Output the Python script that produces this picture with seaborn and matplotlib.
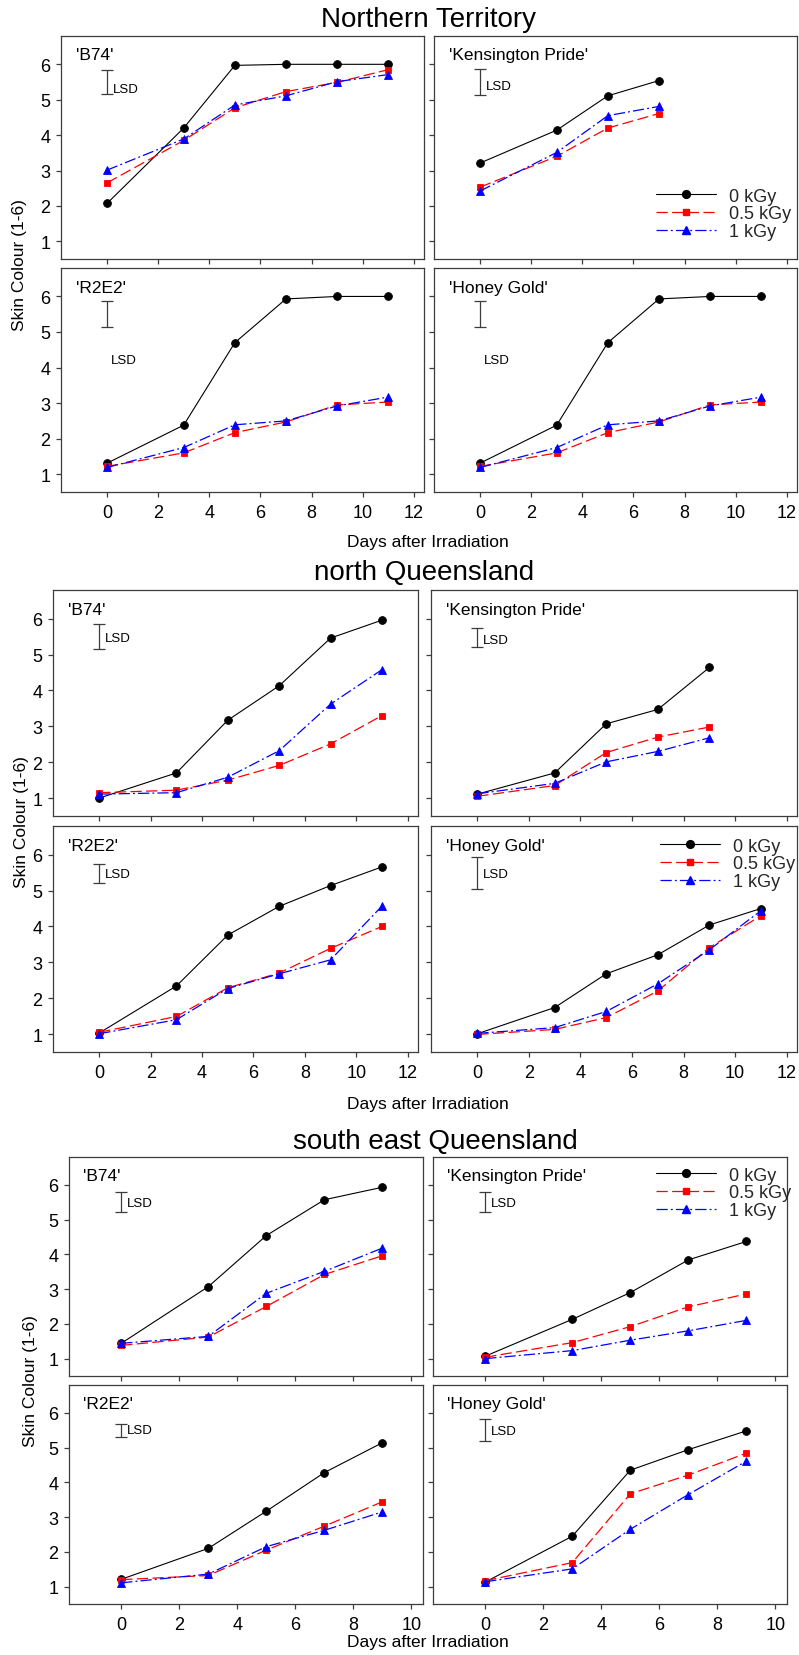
import matplotlib
matplotlib.use("Agg")
import matplotlib.pyplot as plt
import seaborn as sns
from matplotlib.lines import Line2D

sns.set_theme(style="ticks")
plt.rcParams['font.family'] = ['Liberation Sans', 'DejaVu Sans']

W, H, DPI = 799, 1656, 100

# ---------------- data ----------------
doses = ["0 kGy", "0.5 kGy", "1 kGy"]
cultivars = ["'B74'", "'Kensington Pride'", "'R2E2'", "'Honey Gold'"]
regions = ["Northern Territory", "north Queensland", "south east Queensland"]

days_11 = [0, 3, 5, 7, 9, 11]
days_9 = [0, 3, 5, 7, 9]
days_7 = [0, 3, 5, 7]

# Northern Territory
nt_b74_0 = [2.07, 4.20, 5.97, 6.00, 6.00, 6.00]
nt_b74_05 = [2.65, 3.85, 4.77, 5.23, 5.49, 5.85]
nt_b74_1 = [3.01, 3.89, 4.85, 5.11, 5.51, 5.71]
nt_kp_0 = [3.21, 4.14, 5.11, 5.54]
nt_kp_05 = [2.53, 3.40, 4.20, 4.61]
nt_kp_1 = [2.42, 3.51, 4.55, 4.81]
nt_r2e2_0 = [1.31, 2.38, 4.70, 5.93, 6.00, 6.00]
nt_r2e2_05 = [1.22, 1.60, 2.17, 2.47, 2.95, 3.03]
nt_r2e2_1 = [1.19, 1.75, 2.39, 2.50, 2.92, 3.17]
nt_hg_0 = [1.31, 2.38, 4.70, 5.93, 6.00, 6.00]
nt_hg_05 = [1.22, 1.60, 2.17, 2.47, 2.95, 3.03]
nt_hg_1 = [1.19, 1.75, 2.39, 2.50, 2.92, 3.17]

# north Queensland
nq_b74_0 = [1.00, 1.70, 3.17, 4.13, 5.46, 5.96]
nq_b74_05 = [1.15, 1.22, 1.50, 1.91, 2.51, 3.30]
nq_b74_1 = [1.11, 1.15, 1.58, 2.32, 3.62, 4.58]
nq_kp_0 = [1.11, 1.70, 3.07, 3.47, 4.64]
nq_kp_05 = [1.05, 1.35, 2.27, 2.70, 2.98]
nq_kp_1 = [1.12, 1.41, 2.01, 2.30, 2.68]
nq_r2e2_0 = [1.03, 2.34, 3.76, 4.56, 5.14, 5.66]
nq_r2e2_05 = [1.05, 1.49, 2.29, 2.70, 3.39, 4.00]
nq_r2e2_1 = [1.01, 1.40, 2.27, 2.68, 3.07, 4.57]
nq_hg_0 = [1.01, 1.74, 2.68, 3.21, 4.04, 4.50]
nq_hg_05 = [0.99, 1.13, 1.46, 2.20, 3.41, 4.30]
nq_hg_1 = [1.02, 1.18, 1.63, 2.40, 3.35, 4.44]

# south east Queensland
seq_b74_0 = [1.44, 3.07, 4.54, 5.57, 5.93]
seq_b74_05 = [1.38, 1.62, 2.50, 3.42, 3.96]
seq_b74_1 = [1.44, 1.64, 2.88, 3.51, 4.18]
seq_kp_0 = [1.07, 2.13, 2.90, 3.84, 4.37]
seq_kp_05 = [1.04, 1.46, 1.92, 2.49, 2.86]
seq_kp_1 = [1.00, 1.23, 1.53, 1.80, 2.10]
seq_r2e2_0 = [1.21, 2.10, 3.17, 4.28, 5.14]
seq_r2e2_05 = [1.20, 1.32, 2.05, 2.74, 3.44]
seq_r2e2_1 = [1.11, 1.36, 2.15, 2.62, 3.15]
seq_hg_0 = [1.13, 2.45, 4.35, 4.94, 5.48]
seq_hg_05 = [1.17, 1.69, 3.67, 4.21, 4.84]
seq_hg_1 = [1.14, 1.51, 2.65, 3.65, 4.61]

# LSD bars (low, high) and the height of the "LSD" label
nt_lsd = [(5.15, 5.84, 5.30), (5.13, 5.87, 5.39), (5.13, 5.86, 4.22), (5.13, 5.86, 4.22)]
nq_lsd = [(5.16, 5.85, 5.46), (5.22, 5.73, 5.40), (5.22, 5.75, 5.45), (5.05, 5.94, 5.45)]
seq_lsd = [(5.21, 5.79, 5.47), (5.21, 5.79, 5.47), (5.31, 5.69, 5.50), (5.20, 5.81, 5.47)]

# ---------------- styling ----------------
EDGE = "#3c3c3c"
series_style = [
    dict(color="black", marker="o", ms=5.6, ls="-", lw=0.8),
    dict(color="#ff0000", marker="s", ms=4.8, ls=(0, (9, 3.5)), lw=0.9),
    dict(color="#0000ff", marker="^", ms=5.6, ls=(0, (9, 2.5, 1.5, 2.5)), lw=0.9),
]

# panel boxes in pixels: (left-col x0, x1), (right-col x0, x1), (row1 y0, y1), (row2 y0, y1)
blocks = [
    dict(title=regions[0], title_xy=(429, 20), cols=[(61, 424), (434, 797)],
         rows=[(37, 260), (269, 493)], xmax=12, xlim=(-1.8, 12.4), ylab_x=20,
         xlab_y=543,
         days=[days_11, days_7, days_11, days_11],
         vals=[(nt_b74_0, nt_b74_05, nt_b74_1), (nt_kp_0, nt_kp_05, nt_kp_1),
               (nt_r2e2_0, nt_r2e2_05, nt_r2e2_1), (nt_hg_0, nt_hg_05, nt_hg_1)],
         lsd=nt_lsd, lsd_x=[0.22, 0.22, 0.15, 0.15], legend=(1, (0.612, 0.202))),
    dict(title=regions[1], title_xy=(424, 573), cols=[(53, 418), (431, 797)],
         rows=[(591, 817), (827, 1053)], xmax=12, xlim=(-1.8, 12.4), ylab_x=22,
         xlab_y=1105,
         days=[days_11, days_9, days_11, days_11],
         vals=[(nq_b74_0, nq_b74_05, nq_b74_1), (nq_kp_0, nq_kp_05, nq_kp_1),
               (nq_r2e2_0, nq_r2e2_05, nq_r2e2_1), (nq_hg_0, nq_hg_05, nq_hg_1)],
         lsd=nq_lsd, lsd_x=[0.22, 0.22, 0.22, 0.22], legend=(3, (0.626, 0.832))),
    dict(title=regions[2], title_xy=(435, 1142), cols=[(69, 423), (433, 787)],
         rows=[(1158, 1377), (1386, 1605)], xmax=10, xlim=(-1.8, 10.4), ylab_x=30,
         xlab_y=1643,
         days=[days_9, days_9, days_9, days_9],
         vals=[(seq_b74_0, seq_b74_05, seq_b74_1), (seq_kp_0, seq_kp_05, seq_kp_1),
               (seq_r2e2_0, seq_r2e2_05, seq_r2e2_1), (seq_hg_0, seq_hg_05, seq_hg_1)],
         lsd=seq_lsd, lsd_x=[0.2, 0.2, 0.2, 0.2], legend=(1, (0.63, 0.836))),
]

fig = plt.figure(figsize=(W / DPI, H / DPI), dpi=DPI)
fig.patch.set_facecolor("white")


def px_axes(x0, x1, y0, y1):
    return fig.add_axes([x0 / W, 1 - y1 / H, (x1 - x0) / W, (y1 - y0) / H])


for blk in blocks:
    for k in range(4):
        r, c = divmod(k, 2)
        (x0, x1), (y0, y1) = blk["cols"][c], blk["rows"][r]
        ax = px_axes(x0, x1, y0, y1)
        ax.set_facecolor("white")
        days = blk["days"][k]
        for vals, st in zip(blk["vals"][k], series_style):
            sns.lineplot(x=days, y=vals, ax=ax, color=st["color"], marker=st["marker"],
                         markersize=st["ms"], markeredgecolor=st["color"],
                         markeredgewidth=0.6, linewidth=st["lw"], linestyle=st["ls"],
                         legend=False, errorbar=None, sort=False)
        lo, hi, ty = blk["lsd"][k]
        ax.errorbar([0], [(lo + hi) / 2], yerr=[[(hi - lo) / 2], [(hi - lo) / 2]],
                    fmt="none", ecolor=EDGE, elinewidth=0.9, capsize=4, capthick=0.9)
        ax.text(blk["lsd_x"][k], ty, "LSD", fontsize=9.5, ha="left", va="center", color="black")
        ax.text(0.04, 0.915, cultivars[k], transform=ax.transAxes, fontsize=12.5,
                ha="left", va="center", color="black")

        ax.set_xlim(*blk["xlim"])
        ax.set_ylim(0.5, 6.8)
        ax.set_xticks(list(range(0, blk["xmax"] + 1, 2)))
        ax.set_yticks([1, 2, 3, 4, 5, 6])
        ax.set_xlabel("")
        ax.set_ylabel("")
        for sp in ax.spines.values():
            sp.set_visible(True)
            sp.set_color(EDGE)
            sp.set_linewidth(0.9)
        ax.tick_params(axis="both", direction="out", length=3.5, width=0.9, color=EDGE,
                       labelsize=13, labelcolor="black", bottom=True, left=True)
        ax.tick_params(axis="x", pad=5)
        ax.tick_params(axis="y", pad=4)
        if r == 0:
            ax.tick_params(labelbottom=False)
        if c == 1:
            ax.tick_params(labelleft=False)

        if k == blk["legend"][0]:
            handles = [Line2D([], [], color=st["color"], marker=st["marker"], markersize=st["ms"],
                              markeredgecolor=st["color"], linewidth=st["lw"], linestyle=st["ls"])
                       for st in series_style]
            ax.legend(handles, doses, loc="center left", bbox_to_anchor=blk["legend"][1],
                      frameon=False, fontsize=13, handlelength=3.3, handletextpad=0.75,
                      labelspacing=0.05, borderpad=0, borderaxespad=0)

    fig.text(blk["title_xy"][0] / W, 1 - blk["title_xy"][1] / H, blk["title"],
             ha="center", va="center", fontsize=20, color="black")
    ymid = (blk["rows"][0][0] + blk["rows"][1][1]) / 2
    fig.text(blk["ylab_x"] / W, 1 - ymid / H, "Skin Colour (1-6)", rotation=90,
             ha="center", va="center", fontsize=12.5, color="black")
    fig.text(428 / W, 1 - blk["xlab_y"] / H, "Days after Irradiation",
             ha="center", va="center", fontsize=12.5, color="black")

fig.savefig("out.png", dpi=DPI, facecolor="white")
